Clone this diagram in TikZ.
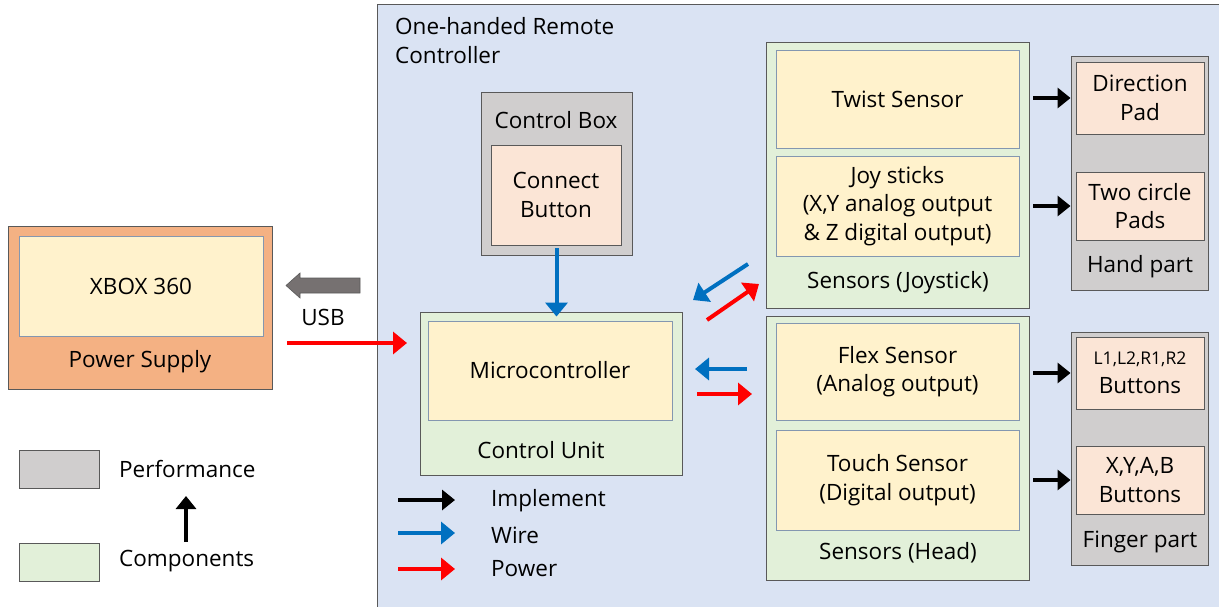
\documentclass[tikz,border=0pt]{standalone}
\usepackage{fontspec}
\setmainfont{Open Sans}
\usetikzlibrary{arrows.meta}
\definecolor{panelblue}{HTML}{DAE3F3}
\definecolor{compgreen}{HTML}{E2F0D9}
\definecolor{perfgray}{HTML}{D0CECE}
\definecolor{innercream}{HTML}{FFF2CC}
\definecolor{innerpeach}{HTML}{FBE5D6}
\definecolor{orangebox}{HTML}{F4B183}
\definecolor{wireblue}{HTML}{0070C0}
\definecolor{pwrred}{HTML}{FF0000}
\definecolor{bordergray}{HTML}{595959}
\definecolor{innerborder}{HTML}{8497B0}
\definecolor{usbgray}{HTML}{767171}
\tikzset{
  box/.style={draw=bordergray, line width=0.9pt, inner sep=0pt, anchor=center},
  panelbox/.style={box, fill=panelblue, draw=bordergray},
  greenbox/.style={box, fill=compgreen},
  graybox/.style={box, fill=perfgray},
  orbox/.style={box, fill=orangebox},
  creambox/.style={box, fill=innercream, draw=innerborder, align=center, font=\fontsize{22.5}{28.5}\selectfont},
  peachbox/.style={box, fill=innerpeach, align=center, font=\fontsize{22.5}{28.5}\selectfont},
  txt/.style={inner sep=0pt, align=center, font=\fontsize{22.5}{29}\selectfont},
  imp/.style={line width=4.5pt, black, -{Triangle[length=13pt,width=20pt]}},
  wire/.style={line width=4pt, wireblue, -{Triangle[length=14pt,width=22pt]}},
  pwr/.style={line width=4pt, pwrred, -{Triangle[length=14pt,width=22pt]}},
}
\begin{document}
\begin{tikzpicture}[x=1pt,y=-1pt]
\useasboundingbox (0,0) rectangle (1219,606);
% main panel
\node[panelbox, minimum width=850pt, minimum height=610pt] (panel) at (802,309) {};
\node[txt, anchor=north west, align=left] (title) at (395,17) {One-handed Remote\\Controller};

% XBOX
\node[orbox, minimum width=264pt, minimum height=163pt] (xbox) at (140,307.5) {};
\node[creambox, minimum width=244pt, minimum height=100pt] (xboxin) at (141,286) {XBOX 360};
\node[txt] (pstxt) at (140,362) {Power Supply};

% USB block arrow
\draw[fill=usbgray, draw=bordergray, line width=0.6pt]
  (360,278) -- (300,278) -- (300,273) -- (286,285.5) -- (300,298) -- (300,293) -- (360,293) -- cycle;
\node[txt] (usbtxt) at (323,317) {USB};

% Control box
\node[graybox, minimum width=151pt, minimum height=163pt] (ctrlbox) at (556.5,173.5) {};
\node[txt] (ctrltxt) at (556,120) {Control Box};
\node[peachbox, minimum width=130pt, minimum height=100pt] (connect) at (556,195) {Connect\\Button};

% Control unit
\node[greenbox, minimum width=262pt, minimum height=163pt] (cunit) at (551,393.5) {};
\node[creambox, minimum width=244pt, minimum height=99pt] (micro) at (550,370.5) {Microcontroller};
\node[txt] (cutxt) at (541,450) {Control Unit};

% Sensors joystick
\node[greenbox, minimum width=263pt, minimum height=266pt] (sjoy) at (897.5,175) {};
\node[creambox, minimum width=243pt, minimum height=98pt] (twist) at (897.5,99) {Twist Sensor};
\node[creambox, minimum width=243pt, minimum height=100pt] (joy) at (897.5,206) {Joy sticks\\(X,Y analog output\\\& Z digital output)};
\node[txt] (sjtxt) at (898,283) {Sensors (Joystick)};

% Sensors head
\node[greenbox, minimum width=263pt, minimum height=264pt] (shead) at (897.5,448) {};
\node[creambox, minimum width=243pt, minimum height=97pt] (flex) at (897.5,371.5) {Flex Sensor\\(Analog output)};
\node[creambox, minimum width=243pt, minimum height=100pt] (touch) at (897.5,480) {Touch Sensor\\(Digital output)};
\node[txt] (shtxt) at (898,553) {Sensors (Head)};

% Hand part
\node[graybox, minimum width=137pt, minimum height=234pt] (hand) at (1139.5,173) {};
\node[peachbox, minimum width=128pt, minimum height=72pt] (dpad) at (1140,98) {Direction\\Pad};
\node[peachbox, minimum width=128pt, minimum height=68pt] (tcp) at (1140,206) {Two circle\\Pads};
\node[txt] (handtxt) at (1140,267) {Hand part};

% Finger part
\node[graybox, minimum width=137pt, minimum height=233pt] (finger) at (1139.5,448.5) {};
\node[peachbox, minimum width=128pt, minimum height=72pt] (lr) at (1140,373) {{\fontsize{17.5}{28.5}\selectfont L1,L2,R1,R2}\\Buttons};
\node[peachbox, minimum width=128pt, minimum height=68pt] (xyab) at (1140,480) {X,Y,A,B\\Buttons};
\node[txt] (fingtxt) at (1140,542) {Finger part};

% implement arrows
\draw[imp] ([xshift=4pt]sjoy.east |- dpad.west) -- (hand.west |- dpad.west);
\draw[imp] ([xshift=4pt]sjoy.east |- tcp.west) -- (hand.west |- tcp.west);
\draw[imp] ([xshift=4pt]shead.east |- lr.west) -- (finger.west |- lr.west);
\draw[imp] ([xshift=4pt]shead.east |- xyab.west) -- (finger.west |- xyab.west);

% wire from control box
\draw[wire] ([yshift=7pt]ctrlbox.south) -- ([yshift=-5pt]cunit.north -| ctrlbox.south);

% power in
\coordinate (pwrA) at (287,343);
\coordinate (pwrB) at (407,343);
\draw[pwr] (pwrA) -- (pwrB);

% diagonal arrows
\coordinate (bdA) at (748,264);
\coordinate (bdB) at (693,300);
\coordinate (rdA) at (707,320);
\coordinate (rdB) at (759,284);
\draw[wire] (bdA) -- (bdB);
\draw[pwr] (rdA) -- (rdB);
% horizontal
\coordinate (bhA) at (747,369);
\coordinate (bhB) at (695,369);
\coordinate (rhA) at (697,394);
\coordinate (rhB) at (752,394);
\draw[wire] (bhA) -- (bhB);
\draw[pwr] (rhA) -- (rhB);

% legend inside
\coordinate (l1a) at (398,500); \coordinate (l1b) at (455,500);
\coordinate (l2a) at (398,533); \coordinate (l2b) at (455,533);
\coordinate (l3a) at (398,569); \coordinate (l3b) at (455,569);
\draw[imp, line width=4pt] (l1a) -- (l1b);
\draw[wire] (l2a) -- (l2b);
\draw[pwr] (l3a) -- (l3b);
\node[txt, anchor=west] (limp) at (491,501) {Implement};
\node[txt, anchor=west] (lwire) at (491,535) {Wire};
\node[txt, anchor=west] (lpwr) at (491,569) {Power};

% legend left
\node[graybox, minimum width=80pt, minimum height=38pt] (lgperf) at (59,469) {};
\node[greenbox, minimum width=80pt, minimum height=38pt] (lgcomp) at (59,562) {};
\node[txt, anchor=west] (perftxt) at (119,469) {Performance};
\node[txt, anchor=west] (comptxt) at (119,561) {Components};
\coordinate (upA) at (186,542);
\coordinate (upB) at (186,496);
\draw[line width=4pt, -{Triangle[length=13pt,width=20pt]}] (upA) -- (upB);
\end{tikzpicture}
\end{document}
